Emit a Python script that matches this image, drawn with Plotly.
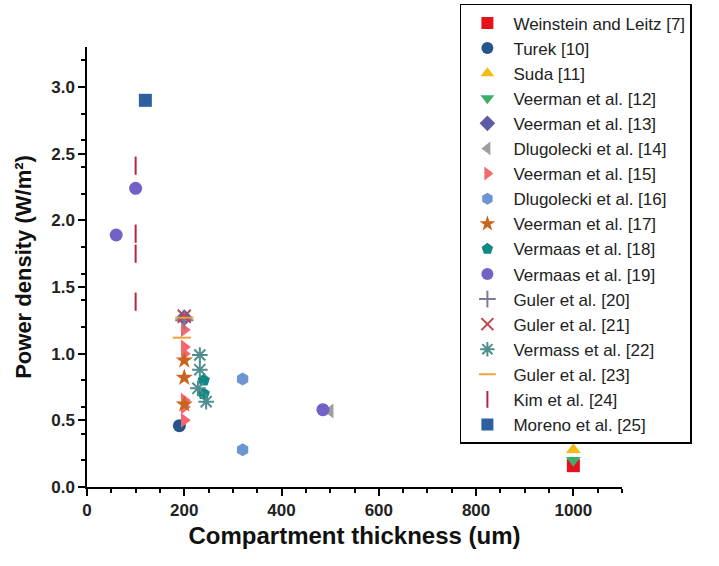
import plotly.graph_objects as go

# Power density vs. compartment thickness reported in the literature
studies = [
    "Weinstein and Leitz [7]", "Turek [10]", "Suda [11]", "Veerman et al. [12]",
    "Veerman et al. [13]", "Dlugolecki et al. [14]", "Veerman et al. [15]",
    "Dlugolecki et al. [16]", "Veerman et al. [17]", "Vermaas et al. [18]",
    "Vermaas et al. [19]", "Guler et al. [20]", "Guler et al. [21]",
    "Vermass et al. [22]", "Guler et al. [23]", "Kim et al. [24]", "Moreno et al. [25]",
]

thickness = [
    [1000],
    [190],
    [1000],
    [1000],
    [200],
    [500],
    [200, 200, 200, 200, 200, 200],
    [320, 320],
    [200, 200, 200],
    [240, 240],
    [60, 100, 485],
    [200],
    [200],
    [232, 232, 228, 245],
    [200, 195],
    [100, 100, 100, 100],
    [120],
]

power = [
    [0.16],
    [0.46],
    [0.28],
    [0.20],
    [1.27],
    [0.57],
    [1.18, 1.05, 1.0, 0.65, 0.6, 0.5],
    [0.81, 0.28],
    [0.95, 0.82, 0.62],
    [0.80, 0.70],
    [1.89, 2.24, 0.58],
    [1.25],
    [1.28],
    [0.99, 0.88, 0.74, 0.64],
    [1.27, 1.12],
    [2.41, 1.90, 1.75, 1.39],
    [2.90],
]

colors = [
    "#E3121B", "#24558C", "#F2BC12", "#3CAE6A", "#5D5AA6", "#9E9E9E",
    "#F4676F", "#6B96D3", "#C8641E", "#0F8A82", "#7461C6", "#857796",
    "#C1444C", "#4F8D8E", "#EFA23A", "#B4263A", "#2D609E",
]

symbols = [
    "square", "circle", "triangle-up", "triangle-down", "diamond", "triangle-left",
    "triangle-right", "hexagon", "star", "pentagon", "circle", "cross-thin-open",
    "x-thin-open", "asterisk-open", "line-ew-open", "line-ns-open", "square",
]

fig = go.Figure()
for name, xs, ys, c, s in zip(studies, thickness, power, colors, symbols):
    open_sym = s.endswith("-open")
    fig.add_trace(go.Scatter(
        x=xs, y=ys, mode="markers", name=name,
        marker=dict(
            symbol=s, size=13, color=c,
            line=dict(color=c, width=2 if open_sym else 0),
        ),
    ))

font_family = "Arial, Liberation Sans, sans-serif"
axis_common = dict(
    showline=True, linecolor="black", linewidth=1.5, mirror=False,
    showgrid=False, zeroline=False,
    ticks="outside", ticklen=7, tickwidth=1.5, tickcolor="black",
    tickfont=dict(family=font_family, size=17, color="#222222", weight="bold"),
    minor=dict(ticks="outside", ticklen=4, tickwidth=1.5, tickcolor="black"),
)

fig.update_layout(
    width=719, height=566,
    margin=dict(l=87, r=97, t=47, b=79, autoexpand=False),
    plot_bgcolor="white", paper_bgcolor="white",
    font=dict(family=font_family, color="#111111"),
    xaxis=dict(
        range=[0, 1100], tickvals=[0, 200, 400, 600, 800, 1000],
        title=dict(text="Compartment thickness (um)", standoff=8,
                   font=dict(family=font_family, size=24, weight="bold")),
        **axis_common,
    ),
    yaxis=dict(
        range=[0, 3.3], tickvals=[0, 0.5, 1, 1.5, 2, 2.5, 3], tickformat=".1f",
        title=dict(text="Power density (W/m²)", standoff=14,
                   font=dict(family=font_family, size=22, weight="bold")),
        **axis_common,
    ),
    showlegend=True,
    legend=dict(
        x=0.697, y=1.098, xanchor="left", yanchor="top",
        bgcolor="white", bordercolor="black", borderwidth=1.5,
        font=dict(family=font_family, size=17, color="#222222"),
        itemsizing="constant", itemwidth=42, maxheight=560,
    ),
)

fig.write_html("out.html")
